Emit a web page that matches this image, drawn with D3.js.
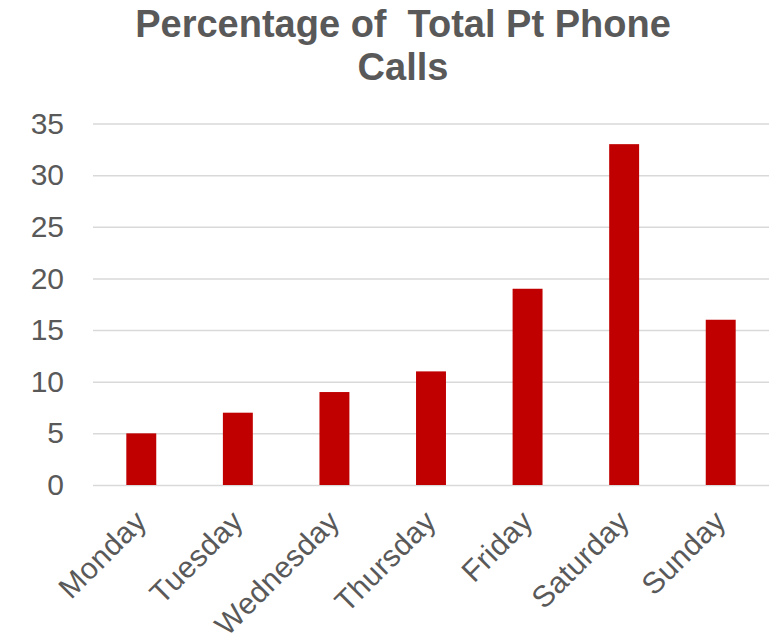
<!DOCTYPE html>
<html>
<head>
<meta charset="utf-8">
<script src="https://cdn.jsdelivr.net/npm/d3@7"></script>
<style>
  html, body { margin: 0; padding: 0; background: #ffffff; }
  svg { display: block; }
</style>
</head>
<body>
<script>
// Share of patient phone calls by weekday (%)
const days = ["Monday", "Tuesday", "Wednesday", "Thursday", "Friday", "Saturday", "Sunday"];
const percentages = [5, 7, 9, 11, 19, 33, 16];
const yTicks = [0, 5, 10, 15, 20, 25, 30, 35];
const titleLines = ["Percentage of  Total Pt Phone", "Calls"];

const width = 781, height = 642;
const margin = { top: 123.5, right: 12, bottom: 157, left: 93 };
const textColor = "#595959";
const barColor = "#c00000";
const gridColor = "#d9d9d9";
const font = "'Liberation Sans', Arial, sans-serif";

const svg = d3.select("body").append("svg")
  .attr("width", width)
  .attr("height", height);

const x = d3.scaleBand()
  .domain(days)
  .range([margin.left, width - margin.right])
  .paddingInner(0.69)
  .paddingOuter(0.345);

const y = d3.scaleLinear()
  .domain([0, 35])
  .range([height - margin.bottom, margin.top]);

// Title
svg.append("text")
  .attr("x", 403)
  .attr("y", 37)
  .attr("text-anchor", "middle")
  .attr("fill", textColor)
  .style("font-family", font)
  .style("font-weight", "bold")
  .style("font-size", "38px")
  .style("white-space", "pre")
  .selectAll("tspan")
  .data(titleLines)
  .join("tspan")
  .attr("x", 403)
  .attr("dy", (d, i) => i === 0 ? 0 : 43)
  .text(d => d);

// Horizontal gridlines + value labels
const yAxis = d3.axisLeft(y)
  .tickValues(yTicks)
  .tickSize(-(width - margin.left - margin.right))
  .tickPadding(29)
  .tickFormat(d3.format("d"));

const yG = svg.append("g")
  .attr("transform", `translate(${margin.left},0)`)
  .call(yAxis);
yG.select(".domain").remove();
yG.selectAll(".tick line")
  .attr("stroke", gridColor)
  .attr("stroke-width", 1.5);
yG.selectAll(".tick text")
  .attr("fill", textColor)
  .style("font-family", font)
  .style("font-size", "30px");

// Bars
svg.append("g")
  .selectAll("rect")
  .data(days.map((d, i) => ({ day: d, value: percentages[i] })))
  .join("rect")
  .attr("x", d => x(d.day))
  .attr("y", d => y(d.value))
  .attr("width", x.bandwidth())
  .attr("height", d => y(0) - y(d.value))
  .attr("fill", barColor);

// Category labels, rotated
const xAxis = d3.axisBottom(x).tickSize(0).tickPadding(0);
const xG = svg.append("g")
  .attr("transform", `translate(0,${y(0)})`)
  .call(xAxis);
xG.select(".domain").remove();
xG.selectAll(".tick text")
  .attr("fill", textColor)
  .style("font-family", font)
  .style("font-size", "30px")
  .style("letter-spacing", "0.4px")
  .attr("text-anchor", "end")
  .attr("y", 0)
  .attr("dy", 0)
  .attr("transform", "translate(7,38) rotate(-45)");
</script>
</body>
</html>
